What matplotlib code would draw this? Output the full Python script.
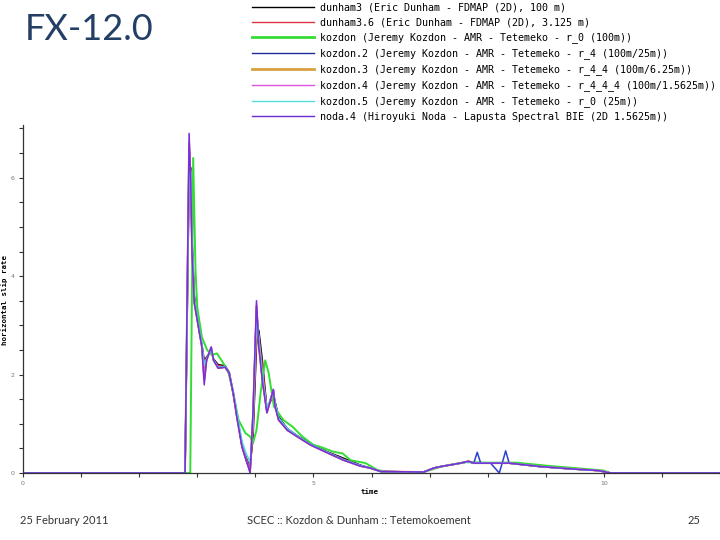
import matplotlib
matplotlib.use("Agg")
import matplotlib.pyplot as plt
from matplotlib.lines import Line2D
from matplotlib.ticker import MultipleLocator

# time grid shared by the fine-resolution runs
t_main = [0.0, 2.79, 2.86, 2.89, 2.91, 2.95, 3.02, 3.08, 3.12, 3.16,
          3.24, 3.28, 3.36, 3.48, 3.55, 3.62, 3.68, 3.77, 3.84, 3.88,
          3.91, 3.96, 4.02, 4.06, 4.12, 4.20, 4.26, 4.31, 4.34, 4.40,
          4.55, 4.72, 4.95, 5.24, 5.52, 5.81, 5.98, 6.16, 6.90, 7.07,
          7.19, 7.53, 7.67, 7.76, 7.82, 7.88, 8.05, 8.20, 8.25, 8.31,
          8.37, 8.91, 9.48, 9.90, 10.12, 12.0]

dunham3 = [0, 0, 6.0, 6.2, 4.8, 3.6, 3.0, 2.6, 2.3, 2.35,
           2.5, 2.32, 2.2, 2.18, 2.05, 1.6, 1.2, 0.55, 0.32, 0.2,
           0.15, 0.7, 2.6, 2.9, 2.3, 1.3, 1.45, 1.6, 1.45, 1.15,
           0.9, 0.76, 0.6, 0.43, 0.3, 0.16, 0.1, 0.03, 0.02, 0.1,
           0.13, 0.2, 0.23, 0.2, 0.2, 0.2, 0.2, 0.2, 0.2, 0.2,
           0.2, 0.13, 0.08, 0.05, 0, 0]
dunham3_6 = [0, 0, 6.1, 6.1, 4.7, 3.55, 3.0, 2.6, 2.25, 2.33,
             2.5, 2.3, 2.18, 2.16, 2.04, 1.61, 1.18, 0.55, 0.3, 0.18,
             0.12, 0.8, 2.7, 2.8, 2.2, 1.28, 1.45, 1.62, 1.42, 1.12,
             0.89, 0.75, 0.59, 0.42, 0.28, 0.15, 0.1, 0.03, 0.02, 0.1,
             0.13, 0.2, 0.23, 0.2, 0.2, 0.2, 0.2, 0.2, 0.2, 0.2,
             0.2, 0.13, 0.08, 0.05, 0, 0]
kozdon2 = [0, 0, 6.6, 6.0, 4.6, 3.5, 3.0, 2.6, 2.0, 2.3,
           2.52, 2.3, 2.14, 2.15, 2.03, 1.64, 1.2, 0.6, 0.3, 0.15,
           0.05, 1.1, 3.35, 2.7, 1.95, 1.25, 1.5, 1.7, 1.4, 1.1,
           0.9, 0.75, 0.58, 0.42, 0.27, 0.15, 0.1, 0.03, 0.02, 0.1,
           0.13, 0.2, 0.23, 0.2, 0.42, 0.2, 0.2, 0.0, 0.2, 0.45,
           0.2, 0.13, 0.08, 0.05, 0, 0]
kozdon3 = [0, 0, 6.7, 5.9, 4.5, 3.45, 2.97, 2.56, 1.9, 2.29,
           2.55, 2.29, 2.13, 2.15, 2.03, 1.62, 1.15, 0.54, 0.27, 0.13,
           0.02, 1.2, 3.4, 2.6, 1.9, 1.23, 1.48, 1.68, 1.36, 1.08,
           0.87, 0.74, 0.57, 0.41, 0.26, 0.14, 0.1, 0.03, 0.02, 0.1,
           0.13, 0.2, 0.24, 0.2, 0.2, 0.2, 0.2, 0.2, 0.2, 0.2,
           0.2, 0.13, 0.08, 0.05, 0, 0]
kozdon4 = [0, 0, 6.7, 5.9, 4.5, 3.45, 2.97, 2.56, 1.9, 2.29,
           2.55, 2.29, 2.13, 2.15, 2.03, 1.62, 1.15, 0.54, 0.27, 0.13,
           0.02, 1.2, 3.4, 2.6, 1.9, 1.23, 1.48, 1.68, 1.36, 1.08,
           0.87, 0.74, 0.57, 0.41, 0.26, 0.14, 0.1, 0.03, 0.02, 0.1,
           0.13, 0.2, 0.24, 0.2, 0.2, 0.2, 0.2, 0.2, 0.2, 0.2,
           0.2, 0.13, 0.08, 0.05, 0, 0]
kozdon5 = [0, 0, 6.3, 6.1, 4.7, 3.55, 3.02, 2.62, 2.2, 2.32,
           2.5, 2.3, 2.15, 2.16, 2.04, 1.65, 1.25, 0.65, 0.4, 0.3,
           0.2, 1.0, 3.2, 2.75, 2.0, 1.3, 1.5, 1.66, 1.42, 1.12,
           0.9, 0.76, 0.58, 0.42, 0.27, 0.15, 0.1, 0.03, 0.02, 0.1,
           0.13, 0.2, 0.23, 0.2, 0.2, 0.2, 0.2, 0.2, 0.2, 0.2,
           0.2, 0.13, 0.08, 0.05, 0, 0]
noda4 = [0, 0, 6.9, 5.8, 4.47, 3.45, 2.97, 2.56, 1.79, 2.29,
         2.56, 2.29, 2.13, 2.15, 2.03, 1.62, 1.15, 0.53, 0.26, 0.12,
         0, 1.22, 3.5, 2.56, 1.89, 1.22, 1.48, 1.69, 1.35, 1.08,
         0.87, 0.74, 0.57, 0.41, 0.26, 0.14, 0.1, 0.03, 0.02, 0.1,
         0.13, 0.2, 0.24, 0.2, 0.2, 0.2, 0.2, 0.2, 0.2, 0.2,
         0.2, 0.13, 0.08, 0.05, 0, 0]

# coarse kozdon run (r_0, 100 m) on its own grid
t_kozdon = [0.0, 2.88, 2.93, 2.97, 3.00, 3.08, 3.17, 3.25, 3.34, 3.45,
            3.54, 3.62, 3.71, 3.83, 3.91, 3.96, 4.02, 4.09, 4.17, 4.23,
            4.32, 4.48, 4.64, 4.81, 5.00, 5.12, 5.35, 5.50, 5.64, 5.90,
            6.10, 6.30, 6.90, 7.20, 7.60, 8.00, 8.50, 9.00, 9.50, 10.0,
            10.1, 12.0]
kozdon = [0, 0, 6.4, 4.12, 3.37, 2.76, 2.5, 2.4, 2.43, 2.23,
          2.03, 1.62, 1.08, 0.81, 0.74, 0.61, 0.87, 1.62, 2.29, 2.03,
          1.35, 1.08, 0.94, 0.74, 0.57, 0.53, 0.43, 0.4, 0.26, 0.2,
          0.06, 0.02, 0.02, 0.13, 0.22, 0.21, 0.21, 0.15, 0.1, 0.05,
          0, 0]

labels = [
    "dunham3 (Eric Dunham - FDMAP (2D), 100 m)",
    "dunham3.6 (Eric Dunham - FDMAP (2D), 3.125 m)",
    "kozdon (Jeremy Kozdon - AMR - Tetemeko - r_0 (100m))",
    "kozdon.2 (Jeremy Kozdon - AMR - Tetemeko - r_4 (100m/25m))",
    "kozdon.3 (Jeremy Kozdon - AMR - Tetemeko - r_4_4 (100m/6.25m))",
    "kozdon.4 (Jeremy Kozdon - AMR - Tetemeko - r_4_4_4 (100m/1.5625m))",
    "kozdon.5 (Jeremy Kozdon - AMR - Tetemeko - r_0 (25m))",
    "noda.4 (Hiroyuki Noda - Lapusta Spectral BIE (2D 1.5625m))",
]
colors = ["#000000", "#dd3344", "#33dd33", "#1f2a9a",
          "#d9a040", "#dd55dd", "#55dddd", "#6a2ccf"]
plot_colors = ["#000000", "#dd3344", "#33dd33", "#2a40d0",
               "#d9a040", "#dd55dd", "#55d8e8", "#7a2ed8"]
widths = [1.0, 1.0, 2.0, 1.0, 2.0, 1.0, 1.0, 1.0]

series = [(t_main, dunham3), (t_main, dunham3_6), (t_kozdon, kozdon),
          (t_main, kozdon2), (t_main, kozdon3), (t_main, kozdon4),
          (t_main, kozdon5), (t_main, noda4)]

fig = plt.figure(figsize=(7.2, 5.4), dpi=100)
ax = fig.add_axes([23/720, 67/540, 697/720, 348/540])

for (tt, vv), c, w in zip(series, plot_colors, widths):
    lw = 1.1 if w < 1.5 else 1.4
    ax.plot(tt, vv, color=c, lw=lw)

ax.set_xlim(0, 12)
ax.set_ylim(0, 7.07)
for s in ["top", "right"]:
    ax.spines[s].set_visible(False)
for s in ["left", "bottom"]:
    ax.spines[s].set_color("#333333")
    ax.spines[s].set_linewidth(0.9)
ax.xaxis.set_major_locator(MultipleLocator(5))
ax.xaxis.set_minor_locator(MultipleLocator(1))
ax.yaxis.set_major_locator(MultipleLocator(2))
ax.yaxis.set_minor_locator(MultipleLocator(0.5))
ax.tick_params(which="both", length=3, width=0.8, color="#333333",
               labelsize=4.5, labelcolor="#777777", pad=3)

fig.text(5/720, 0.444, "horizontal slip rate", rotation=90, ha="center",
         va="center", family="DejaVu Sans Mono", weight="bold", size=5.3)
fig.text(370/720, 1 - 492/540, "time", ha="center", va="center",
         family="DejaVu Sans Mono", weight="bold", size=5.3)

handles = [Line2D([], [], color=c, lw=w) for c, w in zip(colors, widths)]
fig.legend(handles, labels, loc="upper left", bbox_to_anchor=(248/720, 1.003),
           frameon=False, handlelength=6.2, handletextpad=0.6,
           labelspacing=0.5, borderaxespad=0,
           prop={"family": "DejaVu Sans Mono", "size": 7.2})

fig.text(25/720, 1 - 30/540, "FX-12.0", ha="left", va="center",
         family="Lato", size=26, color="#243f66")
fig.text(20/720, 1 - 521/540, "25 February 2011", ha="left", va="center",
         family="Lato", size=8, color="#333333")
fig.text(359/720, 1 - 521/540, "SCEC :: Kozdon & Dunham :: Tetemokoement",
         ha="center", va="center", family="Lato", size=8, color="#333333")
fig.text(700/720, 1 - 521/540, "25", ha="right", va="center",
         family="Lato", size=8, color="#333333")

fig.savefig("out.png", dpi=100)
